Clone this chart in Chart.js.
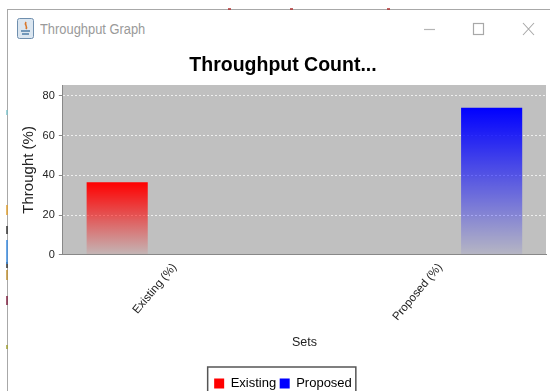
<!DOCTYPE html>
<html>
<head>
<meta charset="utf-8">
<title>Throughput Graph</title>
<script src="https://cdn.jsdelivr.net/npm/chart.js@4"></script>
<style>
  html, body { margin: 0; padding: 0; background: #fff; overflow: hidden; width: 550px; height: 391px; }
  #frame { position: absolute; left: 7px; top: 9px; width: 543px; height: 382px; border-left: 1px solid #a8a8a8; border-top: 1px solid #a8a8a8; box-sizing: border-box; }
  #caption { position: absolute; left: 40px; top: 21px; font: 14px "Liberation Sans", sans-serif; color: #9a9a9a; transform: scaleX(.92); transform-origin: left center; white-space: nowrap; }
  #icon, #controls, #edge { position: absolute; left: 0; top: 0; }
  canvas { position: absolute; left: 0; top: 0; }
</style>
</head>
<body>
<div id="frame"></div>
<svg id="edge" width="550" height="391">
  <path d="M7 110v5" stroke="#7fc4cc" stroke-width="1.5"/>
  <path d="M7 205v10" stroke="#e0a030" stroke-width="1.5"/>
  <path d="M7 226v8M7 262v6" stroke="#333" stroke-width="1.5"/>
  <path d="M7 240v24" stroke="#3a8be0" stroke-width="1.5"/>
  <path d="M7 270v10" stroke="#c09030" stroke-width="1.5"/>
  <path d="M7 296v9" stroke="#802040" stroke-width="1.5"/>
  <path d="M7 345v4" stroke="#a0a030" stroke-width="1.5"/>
  <path d="M228 9h3M290 9h3M387 9h3" stroke="#b03030" stroke-width="1.5"/>
</svg>
<svg id="icon" width="40" height="42">
  <rect x="17.5" y="18.5" width="16" height="20" rx="2" fill="#dbe6f0" stroke="#6f8fae"/>
  <path d="M26 22c-2 3 2 4 0 7" fill="none" stroke="#d9772a" stroke-width="1.6"/>
  <path d="M21 31h9M22 34h7" stroke="#4f7da6" stroke-width="1.3"/>
</svg>
<div id="caption">Throughput Graph</div>
<svg id="controls" width="550" height="42">
  <path d="M424 29.5h11" stroke="#b5b5b5" stroke-width="1.2"/>
  <rect x="473.5" y="23.5" width="10" height="11" fill="none" stroke="#a8a8a8" stroke-width="1.2"/>
  <path d="M523 23l11 12M534 23l-11 12" stroke="#a8a8a8" stroke-width="1.1"/>
</svg>
<canvas id="chart" width="550" height="400"></canvas>
<script>
// Category names, series and axis values for the throughput comparison
const categories = ['Existing (%)', 'Proposed (%)'];
const existingValues = [36.5, null];
const proposedValues = [null, 74];
const yTicks = [0, 20, 40, 60, 80];
const labelShift = [-9, 15];

const FONT = '"Liberation Sans", Arial, sans-serif';

// Each bar fades from its full colour at the top down to the plot grey at the baseline
function fadeFill(rgb) {
  return ctx => {
    const { chart, raw } = ctx;
    if (raw == null || !chart.chartArea) return `rgb(${rgb})`;
    const y = chart.scales.y;
    const g = chart.ctx.createLinearGradient(0, y.getPixelForValue(raw), 0, y.getPixelForValue(0));
    g.addColorStop(0, `rgba(${rgb},1)`);
    g.addColorStop(1, `rgba(${rgb},0.05)`);
    return g;
  };
}

// Grey plot background behind the grid, and the box drawn around the legend entries
const chrome = {
  id: 'chrome',
  beforeDraw(chart) {
    const { ctx, chartArea: a } = chart;
    ctx.save();
    ctx.fillStyle = '#c0c0c0';
    ctx.fillRect(a.left, a.top, a.right - a.left, a.bottom - a.top);
    ctx.restore();
  },
  afterDraw(chart) {
    const { ctx, legend } = chart;
    const boxes = legend.legendHitBoxes;
    const left = Math.min(...boxes.map(b => b.left)) - 6.5;
    const right = Math.max(...boxes.map(b => b.left + b.width)) + 4;
    const top = boxes[0].top - 10;
    ctx.save();
    ctx.strokeStyle = '#555';
    ctx.lineWidth = 1.5;
    ctx.strokeRect(left, top, right - left, boxes[0].height + 20);
    ctx.restore();
  }
};

new Chart(document.getElementById('chart'), {
  type: 'bar',
  data: {
    labels: categories,
    datasets: [
      { label: 'Existing', data: existingValues, backgroundColor: fadeFill('255,0,0') },
      { label: 'Proposed', data: proposedValues, backgroundColor: fadeFill('0,0,255') }
    ]
  },
  plugins: [chrome],
  options: {
    responsive: false,
    animation: false,
    categoryPercentage: 1.1,
    barPercentage: 0.46,
    layout: { padding: { left: 20, right: 4, top: 54, bottom: 0 } },
    plugins: {
      tooltip: { enabled: false },
      title: {
        display: true,
        text: 'Throughput Count...',
        color: '#000',
        font: { family: FONT, size: 19.5, weight: 'bold' },
        padding: { top: 0, bottom: 7.6 }
      },
      legend: {
        position: 'bottom',
        labels: {
          color: '#222',
          font: { family: FONT, size: 13 },
          boxWidth: 10,
          boxHeight: 10,
          padding: 3.5,
          generateLabels: chart => chart.data.datasets.map((d, i) => ({
            text: d.label,
            fillStyle: ['#ff0000', '#0000ff'][i],
            strokeStyle: 'transparent',
            lineWidth: 0,
            datasetIndex: i
          }))
        }
      }
    },
    scales: {
      x: {
        grid: { display: false, drawTicks: false },
        border: { color: '#888' },
        title: { display: true, text: 'Sets', color: '#222', font: { family: FONT, size: 12.5 }, padding: { top: 6, bottom: 23 } },
        ticks: {
          color: '#222', font: { family: FONT, size: 11.5 },
          maxRotation: 50, minRotation: 50, padding: 6
        },
        afterFit(scale) {
          // Category labels sit slightly off their tick centres
          if (scale._shifted) return;
          scale._shifted = true;
          const compute = scale._computeLabelItems.bind(scale);
          scale._computeLabelItems = area => {
            const items = compute(area);
            items.forEach((it, i) => { it.options.translation[0] += labelShift[i]; });
            return items;
          };
        }
      },
      y: {
        min: 0,
        max: 85.5,
        afterBuildTicks(scale) { scale.ticks = yTicks.map(value => ({ value })); },
        grid: { color: 'rgba(255,255,255,0.75)', drawTicks: true, tickLength: 4, tickColor: '#888', tickBorderDash: [] },
        border: { color: '#888', dash: [2, 2] },
        title: { display: true, text: 'Throught (%)', color: '#222', font: { family: FONT, size: 15 }, padding: { top: 0, bottom: 0.6 } },
        ticks: { color: '#222', font: { family: FONT, size: 11 }, padding: 4 }
      }
    }
  }
});
</script>
</body>
</html>
